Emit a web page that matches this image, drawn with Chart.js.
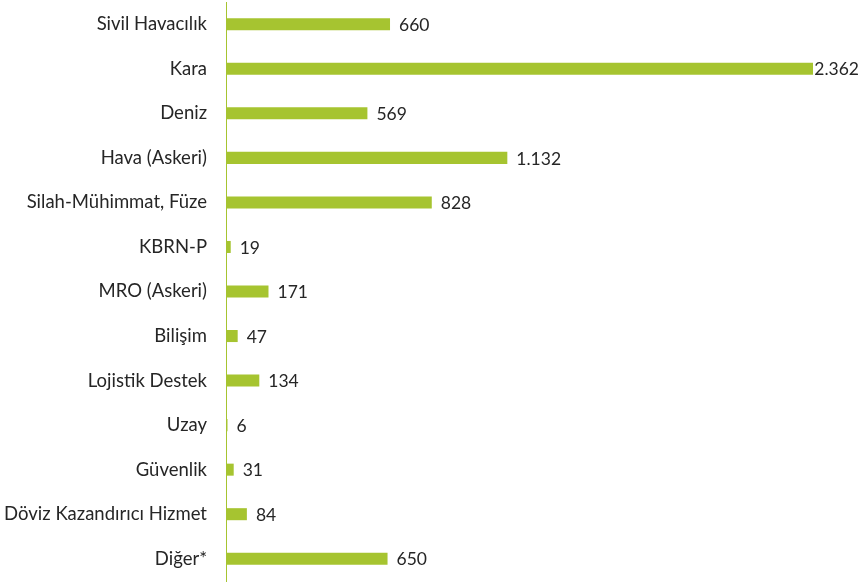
<!DOCTYPE html>
<html><head><meta charset="utf-8">
<script src="https://cdn.jsdelivr.net/npm/chart.js@4"></script>
<style>html,body{margin:0;padding:0;background:#fff;}#wrap{width:863px;height:582px;}</style>
</head><body><div id="wrap"><canvas id="c"></canvas></div>
<script>
const categories = ["Sivil Havacılık","Kara","Deniz","Hava (Askeri)","Silah-Mühimmat, Füze","KBRN-P","MRO (Askeri)","Bilişim","Lojistik Destek","Uzay","Güvenlik","Döviz Kazandırıcı Hizmet","Diğer*"];
const values = [660,2362,569,1132,828,19,171,47,134,6,31,84,650];
const barColor = "#A6C430";
const FONT = "Lato";

function fmt(v){return String(v).replace(/\B(?=(\d{3})+(?!\d))/g,".");}

const labelPlugin = {
  id:'barLabels',
  afterDatasetsDraw(chart){
    const ctx = chart.ctx;
    const meta = chart.getDatasetMeta(0);
    ctx.save();
    ctx.font = "17.5px " + FONT;
    ctx.fillStyle = "#262626";
    ctx.textBaseline = "middle";
    ctx.textAlign = "left";
    meta.data.forEach((bar,i)=>{
      const t = fmt(values[i]);
      const w = ctx.measureText(t).width;
      let x = bar.x + 9;
      const maxX = chart.width - 4 - w;
      if (x > maxX) x = Math.max(bar.x + 1, maxX);
      ctx.fillText(t, x, bar.y + 1);
    });
    ctx.restore();
  }
};

new Chart(document.getElementById('c'),{
  type:'bar',
  data:{labels:categories,datasets:[{data:values,backgroundColor:barColor,barPercentage:0.27,categoryPercentage:1}]},
  options:{
    indexAxis:'y',responsive:true,maintainAspectRatio:false,animation:false,
    layout:{padding:{top:2,bottom:1,right:50,left:0}},
    plugins:{legend:{display:false},tooltip:{enabled:false}},
    scales:{
      x:{display:false,min:0,max:2362},
      y:{
        grid:{display:false,drawTicks:false},
        border:{display:true,color:"#A6C430",width:1},
        ticks:{color:"#262626",font:{family:FONT,size:18.5},padding:19},
        afterFit(s){s.width=226;s.paddingTop=0;s.paddingBottom=0;}
      }
    }
  },
  plugins:[labelPlugin]
});
</script></body></html>
